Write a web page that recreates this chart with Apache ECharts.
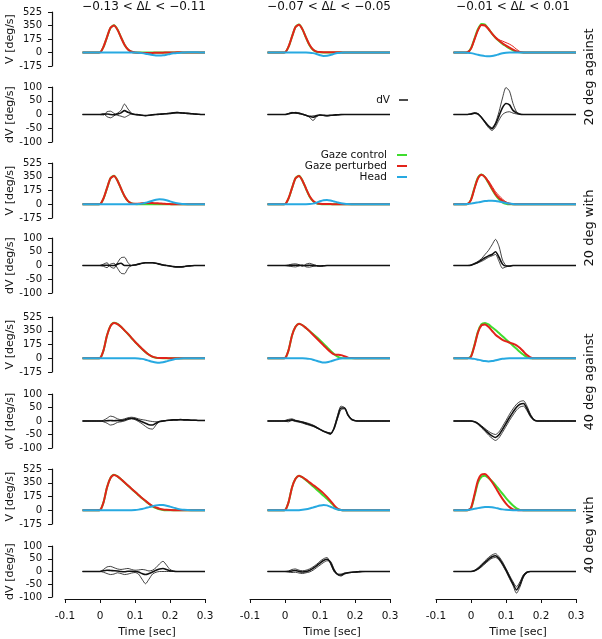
<!DOCTYPE html>
<html>
<head>
<meta charset="utf-8">
<script src="https://cdn.jsdelivr.net/npm/echarts@6/dist/echarts.min.js"></script>
<style>
html,body{margin:0;padding:0;background:#fff;}
#chart{width:602px;height:639px;}
</style>
</head>
<body>
<div id="chart"></div>
<script>
// time axis shared by every trace (sec)
const T = [-0.05,-0.04,-0.03,-0.02,-0.01, 0,0.01,0.02,0.03,0.04, 0.05,0.06,0.07,0.08,0.09,
	0.1,0.11,0.12,0.13,0.14, 0.15,0.16,0.17,0.18,0.19, 0.2,0.21,0.22,0.23,0.24, 0.25,0.26,0.27,0.28,0.29,0.3];

const colTitles = ['−0.13 < Δ{i|L} < −0.11', '−0.07 < Δ{i|L} < −0.05', '−0.01 < Δ{i|L} < 0.01'];
const rowLabels = ['20 deg against', '20 deg with', '40 deg against', '40 deg with'];
const vTicks = [-175, 525, 175];   // min, max, step
const dvTicks = [-100, 100, 50];
const xTicks = [-0.1, 0.3, 0.1];

// ---- 20 deg against ----
const ctlA1 = [0,0,0,0,0, 2,72,198,318,352, 298,198,102,40,10, 1,0,0,0,0, 0,0,0,0,0, 0,0,0,0,0, 0,0,0,0,0,0];
const perA1 = [0,0,0,0,0, 2,75,200,320,350, 295,195,100,38,10, 0,-3,-5,-6,-6, -5,-4,-3,-2,-1, 0,1,2,2,1, 0,0,0,0,0,0];
const hedA1 = [0,0,0,0,0, 0,0,0,0,0, 0,0,0,0,0, -1,-3,-8,-15,-24, -32,-38,-40,-37,-29, -19,-11,-5,-2,0, 2,3,3,2,1,0];
const dvA1a = [0,0,0,0,0, 0,3,-8,-12,-5, 5,15,38,20,5, 0,-2,-3,-4,-3, -2,0,1,2,3, 4,6,8,7,6, 5,4,2,1,0,0];
const dvA1b = [0,0,0,0,0, 0,-2,10,12,4, -3,-6,-10,-4,2, 0,-1,-3,-4,-3, -1,0,1,2,3, 4,5,6,5,4, 3,2,1,0,0,0];
const dvA1m = [0,0,0,0,0, 0,1,2,0,-1, 2,6,14,8,3, 0,-1,-3,-4,-3, -1,0,1,2,3, 4,6,7,6,5, 4,3,2,1,0,0];

const ctlA2 = [0,0,0,0,0, 2,72,205,332,362, 300,192,95,35,10, 2,0,0,0,0, 0,0,0,0,0, 0,0,0,0,0, 0,0,0,0,0,0];
const perA2 = [0,0,0,0,0, 2,75,205,330,360, 300,195,100,38,12, 5,4,4,3,3, 2,2,1,1,0, 0,0,0,0,0, 0,0,0,0,0,0];
const hedA2 = [0,0,0,0,0, 0,0,0,0,0, 0,0,-2,-8,-20, -35,-45,-43,-32,-18, -7,-2,0,0,0, 0,0,0,0,0, 0,0,0,0,0,0];
const dvA2a = [0,0,0,0,0, 0,2,5,8,6, 2,-2,-10,-22,-8, -2,-4,-5,-4,-3, -2,-1,0,0,0, 0,0,0,0,0, 0,0,0,0,0,0];
const dvA2b = [0,0,0,0,0, 0,4,8,5,3, 0,-4,-6,-5,-3, -2,-3,-4,-3,-2, -1,0,0,0,0, 0,0,0,0,0, 0,0,0,0,0,0];
const dvA2m = [0,0,0,0,0, 0,3,6,6,4, 1,-3,-7,-10,-5, -2,-3,-4,-3,-2, -1,0,0,0,0, 0,0,0,0,0, 0,0,0,0,0,0];

const ctlA3 = [0,0,0,0,3, 55,180,305,370,362, 305,245,192,150,112, 82,52,28,10,2, 0,0,0,0,0, 0,0,0,0,0, 0,0,0,0,0,0];
const perA3 = [0,0,0,0,3, 50,170,290,355,350, 305,245,195,155,120, 90,62,36,15,5, 0,0,0,0,0, 0,0,0,0,0, 0,0,0,0,0,0];
const perA3b = [0,0,0,0,3, 50,170,290,355,350, 305,245,195,165,148, 128,108,80,42,12, 2,0,0,0,0, 0,0,0,0,0, 0,0,0,0,0,0];
const hedA3 = [0,0,0,0,-2, -8,-18,-30,-40,-47, -50,-45,-35,-22,-10, -3,0,0,0,0, 0,0,0,0,0, 0,0,0,0,0, 0,0,0,0,0,0];
const dvA3a = [0,0,0,0,0, 2,6,3,-10,-25, -40,-48,-30,10,60, 98,85,40,10,2, 0,0,0,0,0, 0,0,0,0,0, 0,0,0,0,0,0];
const dvA3b = [0,0,0,0,0, 1,4,2,-12,-30, -48,-58,-45,-20,0, 8,10,5,2,0, 0,0,0,0,0, 0,0,0,0,0, 0,0,0,0,0,0];
const dvA3m = [0,0,0,0,0, 2,5,2,-11,-27, -42,-52,-35,-5,25, 40,35,15,6,1, 0,0,0,0,0, 0,0,0,0,0, 0,0,0,0,0,0];

// ---- 20 deg with ----
const ctlB1 = [0,0,0,0,0, 2,72,202,332,362, 302,198,102,40,12, 3,0,0,0,0, 0,0,0,0,0, 0,0,0,0,0, 0,0,0,0,0,0];
const perB1 = [0,0,0,0,0, 2,75,205,330,360, 300,200,105,40,12, 5,8,12,15,16, 15,13,10,7,4, 2,0,0,0,0, 0,0,0,0,0,0];
const hedB1 = [0,0,0,0,0, 0,0,0,0,0, 0,0,0,0,0, 0,2,8,18,32, 45,57,63,60,50, 37,24,13,6,2, 0,0,0,0,0,0];
const dvB1a = [0,0,0,0,0, 0,5,10,-5,-10, 10,28,30,10,0, 2,5,8,10,10, 10,8,5,2,0, -2,-4,-5,-5,-4, -2,-1,0,0,0,0];
const dvB1b = [0,0,0,0,0, 0,-3,-8,5,8, -10,-28,-30,-10,0, 2,5,8,10,10, 10,8,5,2,0, -2,-4,-5,-5,-4, -2,-1,0,0,0,0];
const dvB1m = [0,0,0,0,0, 0,1,1,0,0, 5,8,0,0,0, 2,5,8,10,10, 10,8,5,2,0, -2,-4,-5,-5,-4, -2,-1,0,0,0,0];

const ctlB2 = [0,0,0,0,0, 2,72,205,332,362, 300,195,100,40,12, 3,0,0,0,0, 0,0,0,0,0, 0,0,0,0,0, 0,0,0,0,0,0];
const perB2 = [0,0,0,0,0, 2,75,205,330,360, 300,200,105,45,15, 6,4,3,2,1, 0,0,0,0,0, 0,0,0,0,0, 0,0,0,0,0,0];
const hedB2 = [0,0,0,0,0, 0,0,0,0,0, 0,0,2,8,20, 38,52,55,48,36, 24,13,6,2,0, 0,0,0,0,0, 0,0,0,0,0,0];
const dvB2a = [0,0,0,0,0, 0,2,5,6,3, -3,5,8,4,0, -2,-1,0,0,0, 0,0,0,0,0, 0,0,0,0,0, 0,0,0,0,0,0];
const dvB2b = [0,0,0,0,0, 0,-2,-4,-5,-2, 2,-5,-6,-3,-1, -2,-1,0,0,0, 0,0,0,0,0, 0,0,0,0,0, 0,0,0,0,0,0];
const dvB2m = [0,0,0,0,0, 0,0,1,1,1, 0,0,1,0,-1, -2,-1,0,0,0, 0,0,0,0,0, 0,0,0,0,0, 0,0,0,0,0,0];

const ctlB3 = [0,0,0,0,3, 60,210,340,380,345, 270,190,118,62,25, 6,0,0,0,0, 0,0,0,0,0, 0,0,0,0,0, 0,0,0,0,0,0];
const perB3 = [0,0,0,0,3, 55,200,330,375,345, 280,200,130,80,45, 20,6,0,0,0, 0,0,0,0,0, 0,0,0,0,0, 0,0,0,0,0,0];
const perB3b = [0,0,0,0,3, 55,200,330,375,350, 300,230,160,110,65, 30,10,2,0,0, 0,0,0,0,0, 0,0,0,0,0, 0,0,0,0,0,0];
const hedB3 = [0,0,0,1,3, 8,15,24,33,40, 44,45,42,35,26, 17,9,4,1,0, 0,0,0,0,0, 0,0,0,0,0, 0,0,0,0,0,0];
const dvB3a = [0,0,0,0,0, 2,8,15,25,40, 55,75,95,70,20, 0,-3,0,0,0, 0,0,0,0,0, 0,0,0,0,0, 0,0,0,0,0,0];
const dvB3b = [0,0,0,0,0, 1,5,10,15,22, 30,35,40,15,-10, -5,-2,0,0,0, 0,0,0,0,0, 0,0,0,0,0, 0,0,0,0,0,0];
const dvB3m = [0,0,0,0,0, 1,6,12,20,28, 35,40,50,30,5, -2,-2,0,0,0, 0,0,0,0,0, 0,0,0,0,0, 0,0,0,0,0,0];

// ---- 40 deg against ----
const ctlC1 = [0,0,0,0,0, 3,100,290,412,452, 437,400,355,308,258, 208,162,118,78,44, 18,6,2,0,0, 0,0,0,0,0, 0,0,0,0,0,0];
const perC1 = [0,0,0,0,0, 3,100,290,410,450, 435,400,355,310,260, 210,165,120,80,45, 20,8,4,3,2, 1,0,0,0,0, 0,0,0,0,0,0];
const hedC1 = [0,0,0,0,0, 0,0,0,0,0, 0,0,0,0,0, 0,-2,-8,-18,-32, -45,-55,-58,-52,-40, -27,-15,-7,-2,0, 0,0,0,0,0,0];
const dvC1a = [0,0,0,0,0, 0,3,10,18,15, 8,5,8,12,14, 12,8,5,3,0, -2,-3,-2,0,2, 3,4,4,5,4, 4,3,3,2,2,2];
const dvC1b = [0,0,0,0,0, 0,-3,-8,-15,-12, -5,-3,0,5,8, 5,-2,-10,-20,-28, -30,-15,-3,0,2, 3,4,4,5,4, 4,3,3,2,2,2];
const dvC1m = [0,0,0,0,0, 0,0,1,2,1, 2,1,4,8,10, 8,3,-3,-8,-14, -15,-8,-2,0,2, 3,4,4,5,4, 4,3,3,2,2,2];

const ctlC2 = [0,0,0,0,0, 3,100,290,400,440, 420,385,348,310,270, 228,185,140,95,55, 22,5,0,0,0, 0,0,0,0,0, 0,0,0,0,0,0];
const perC2 = [0,0,0,0,0, 3,100,290,400,440, 420,385,345,300,255, 210,165,120,80,50, 45,40,25,8,2, 0,0,0,0,0, 0,0,0,0,0,0];
const hedC2 = [0,0,0,0,0, 0,0,0,0,0, 0,-2,-8,-18,-32, -45,-55,-52,-40,-25, -12,-4,0,0,0, 0,0,0,0,0, 0,0,0,0,0,0];
const dvC2a = [0,0,0,0,0, 2,6,8,3,0, -3,-6,-10,-15,-22, -30,-38,-45,-50,-25, 20,55,50,25,8, 2,0,0,0,0, 0,0,0,0,0,0];
const dvC2b = [0,0,0,0,0, -1,-3,2,-2,-4, -8,-12,-16,-20,-26, -32,-38,-42,-44,-30, 8,42,45,20,5, 1,0,0,0,0, 0,0,0,0,0,0];
const dvC2m = [0,0,0,0,0, 0,2,4,1,-2, -5,-9,-13,-18,-24, -31,-38,-43,-47,-28, 14,48,48,22,6, 1,0,0,0,0, 0,0,0,0,0,0];

const ctlC3 = [0,0,0,0,0, 25,170,340,435,450, 430,395,360,320,280, 240,200,160,120,80, 45,15,0,0,0, 0,0,0,0,0, 0,0,0,0,0,0];
const perC3 = [0,0,0,0,0, 20,160,330,420,430, 400,350,300,265,235, 215,200,185,165,130, 85,40,10,0,0, 0,0,0,0,0, 0,0,0,0,0,0];
const hedC3 = [0,0,0,0,0, -2,-8,-18,-28,-36, -40,-36,-26,-15,-6, -2,0,0,0,0, 0,0,0,0,0, 0,0,0,0,0, 0,0,0,0,0,0];
const dvC3a = [0,0,0,0,0, 0,-2,-8,-18,-28, -38,-46,-50,-40,-20, 2,25,45,62,72, 75,55,25,6,0, 0,0,0,0,0, 0,0,0,0,0,0];
const dvC3b = [0,0,0,0,0, 0,-4,-12,-25,-38, -52,-64,-72,-62,-42, -20,2,22,40,52, 55,38,15,3,0, 0,0,0,0,0, 0,0,0,0,0,0];
const dvC3m = [0,0,0,0,0, 0,-3,-10,-21,-33, -45,-55,-61,-51,-31, -9,13,33,51,62, 65,46,20,4,0, 0,0,0,0,0, 0,0,0,0,0,0];

// ---- 40 deg with ----
const ctlD1 = [0,0,0,0,0, 3,100,290,412,452, 432,395,353,312,272, 232,192,152,116,80, 50,28,12,4,1, 0,0,0,0,0, 0,0,0,0,0,0];
const perD1 = [0,0,0,0,0, 3,100,290,410,450, 430,395,355,315,275, 235,195,155,120,85, 55,35,20,10,5, 2,0,0,0,0, 0,0,0,0,0,0];
const hedD1 = [0,0,0,0,0, 0,0,0,0,0, 0,0,0,0,1, 3,8,16,27,40, 52,62,68,66,58, 46,33,21,11,5, 2,0,0,0,0,0];
const dvD1a = [0,0,0,0,0, 0,8,18,20,15, 10,8,10,12,8, 5,6,8,6,2, 5,15,30,40,25, 8,2,0,0,0, 0,0,0,0,0,0];
const dvD1b = [0,0,0,0,0, 0,-3,-8,-12,-10, -5,-8,-12,-10,-6, -4,-10,-30,-48,-30, -10,-3,0,0,0, 0,0,0,0,0, 0,0,0,0,0,0];
const dvD1m = [0,0,0,0,0, 0,3,5,4,3, 2,0,-1,1,1, 0,-2,-8,-12,-8, -2,5,10,12,8, 3,1,0,0,0, 0,0,0,0,0,0];

const ctlD2 = [0,0,0,0,0, 3,100,290,400,440, 418,382,345,305,265, 225,185,145,100,55, 15,2,0,0,0, 0,0,0,0,0, 0,0,0,0,0,0];
const perD2 = [0,0,0,0,0, 3,100,290,400,440, 420,390,355,322,290, 255,215,170,120,65, 20,3,0,0,0, 0,0,0,0,0, 0,0,0,0,0,0];
const hedD2 = [0,0,0,0,0, 0,0,0,0,1, 5,12,22,35,48, 60,68,62,45,25, 10,3,0,0,0, 0,0,0,0,0, 0,0,0,0,0,0];
const dvD2a = [0,0,0,0,0, 0,2,8,10,5, 3,5,10,18,28, 40,50,55,30,0, -10,-10,-6,-4,-3, -2,-1,0,0,0, 0,0,0,0,0,0];
const dvD2b = [0,0,0,0,0, 0,-2,-4,-3,-6, -8,-5,-2,5,15, 25,35,42,40,10, -12,-18,-10,-6,-4, -3,-2,-1,0,0, 0,0,0,0,0,0];
const dvD2m = [0,0,0,0,0, 0,0,2,4,0, -2,0,4,12,22, 33,43,48,35,5, -11,-14,-8,-5,-3, -2,-1,0,0,0, 0,0,0,0,0,0];

const ctlD3 = [0,0,0,0,0, 25,180,350,425,440, 410,370,320,265,210, 155,105,60,25,5, 0,0,0,0,0, 0,0,0,0,0, 0,0,0,0,0,0];
const perD3 = [0,0,0,0,0, 30,200,380,455,460, 420,360,290,215,145, 85,40,12,3,0, 0,0,0,0,0, 0,0,0,0,0, 0,0,0,0,0,0];
const hedD3 = [0,0,0,1,4, 10,18,27,35,40, 42,38,30,20,11, 5,2,0,0,0, 0,0,0,0,0, 0,0,0,0,0, 0,0,0,0,0,0];
const dvD3a = [0,0,0,0,0, 0,5,15,28,42, 55,65,70,58,38, 12,-15,-40,-60,-40, -12,-2,0,0,0, 0,0,0,0,0, 0,0,0,0,0,0];
const dvD3b = [0,0,0,0,0, 0,2,8,18,30, 42,52,55,45,25, 0,-28,-55,-85,-60, -22,-5,0,0,0, 0,0,0,0,0, 0,0,0,0,0,0];
const dvD3m = [0,0,0,0,0, 0,3,11,23,36, 48,58,62,51,31, 6,-21,-48,-72,-50, -17,-3,0,0,0, 0,0,0,0,0, 0,0,0,0,0,0];

// panels[row][col]
const panels = [
	[{ctl:ctlA1, per:[perA1], hed:hedA1, dv:[dvA1a,dvA1b], dvm:dvA1m},
	 {ctl:ctlA2, per:[perA2], hed:hedA2, dv:[dvA2a,dvA2b], dvm:dvA2m},
	 {ctl:ctlA3, per:[perA3b,perA3], hed:hedA3, dv:[dvA3a,dvA3b], dvm:dvA3m}],
	[{ctl:ctlB1, per:[perB1], hed:hedB1, dv:[dvB1a,dvB1b], dvm:dvB1m},
	 {ctl:ctlB2, per:[perB2], hed:hedB2, dv:[dvB2a,dvB2b], dvm:dvB2m},
	 {ctl:ctlB3, per:[perB3b,perB3], hed:hedB3, dv:[dvB3a,dvB3b], dvm:dvB3m}],
	[{ctl:ctlC1, per:[perC1], hed:hedC1, dv:[dvC1a,dvC1b], dvm:dvC1m},
	 {ctl:ctlC2, per:[perC2], hed:hedC2, dv:[dvC2a,dvC2b], dvm:dvC2m},
	 {ctl:ctlC3, per:[perC3], hed:hedC3, dv:[dvC3a,dvC3b], dvm:dvC3m}],
	[{ctl:ctlD1, per:[perD1], hed:hedD1, dv:[dvD1a,dvD1b], dvm:dvD1m},
	 {ctl:ctlD2, per:[perD2], hed:hedD2, dv:[dvD2a,dvD2b], dvm:dvD2m},
	 {ctl:ctlD3, per:[perD3], hed:hedD3, dv:[dvD3a,dvD3b], dvm:dvD3m}]
];

const FONT = 'DejaVu Sans';
const GREEN = '#3fdc2e', RED = '#e2231a', CYAN = '#27a9e1', INK = '#111';
const colLeft = [65, 250, 436];
const colW = 140;
const vTop = [12, 163, 317, 469], vH = [54, 55, 55, 55];
const dTop = [87, 238, 394, 546], dH = [55, 55, 54, 55];

function pairs(arr) { return T.map((t, i) => [t, arr[i]]); }
function line(g, arr, color, width) {
	return {type:'line', xAxisIndex:g, yAxisIndex:g, data:pairs(arr), showSymbol:false, symbol:'none',
		smooth:0.25, lineStyle:{color:color, width:width}, itemStyle:{color:color}, silent:true};
}

const grids = [], xAxes = [], yAxes = [], series = [];
function addAxes(g, r, c, kind) {
	const isV = kind === 'V';
	const bottom = !isV && r === 3;
	xAxes.push({
		gridIndex:g, type:'value', min:xTicks[0], max:xTicks[1], interval:xTicks[2], show:bottom, offset:2,
		axisLine:{show:true, onZero:false, lineStyle:{color:INK, width:1.2}},
		axisTick:{show:true, length:4, lineStyle:{color:INK}},
		axisLabel:{fontSize:10.5, color:INK, fontFamily:FONT, margin:12},
		splitLine:{show:false},
		name:'Time [sec]', nameLocation:'middle', nameGap:28,
		nameTextStyle:{fontSize:11, color:INK, fontFamily:FONT, padding:[0,0,0,24]}
	});
	const tk = isV ? vTicks : dvTicks;
	yAxes.push({
		gridIndex:g, type:'value', min:tk[0], max:tk[1], interval:tk[2], show:c === 0, offset:13,
		axisLine:{show:true, onZero:false, lineStyle:{color:INK, width:1.2}},
		axisTick:{show:true, length:4, lineStyle:{color:INK}},
		axisLabel:{fontSize:10, color:INK, fontFamily:FONT, margin:10},
		splitLine:{show:false},
		name:isV ? 'V [deg/s]' : 'dV [deg/s]', nameLocation:'middle', nameGap:36,
		nameTextStyle:{fontSize:11, color:INK, fontFamily:FONT}
	});
}

let g = 0;
for (let r = 0; r < 4; r++) {
	for (let c = 0; c < 3; c++) {
		const p = panels[r][c];
		// velocity panel
		grids.push({left:colLeft[c], top:vTop[r], width:colW, height:vH[r]});
		addAxes(g, r, c, 'V');
		series.push(line(g, p.ctl, GREEN, 2));
		p.per.forEach((arr, k) => series.push(line(g, arr, RED, k === p.per.length - 1 ? 2 : 1)));
		series.push(line(g, p.hed, CYAN, 2));
		g++;
		// difference panel
		grids.push({left:colLeft[c], top:dTop[r], width:colW, height:dH[r]});
		addAxes(g, r, c, 'dV');
		p.dv.forEach(arr => series.push(line(g, arr, INK, 0.8)));
		series.push(line(g, p.dvm, INK, 1.6));
		g++;
	}
}

const graphics = [];
const titleX = [144, 329, 513];
colTitles.forEach((t, i) => graphics.push({
	type:'text', x:titleX[i], y:7,
	style:{text:t, fill:INK, fontSize:12, fontFamily:FONT, align:'center', verticalAlign:'middle',
		rich:{i:{fontStyle:'italic', fontSize:12, fontFamily:FONT, fill:INK}}}
}));
const rowY = [77, 228, 382, 535];
rowLabels.forEach((t, i) => graphics.push({
	type:'text', x:590, y:rowY[i], rotation:Math.PI / 2,
	style:{text:t, fill:INK, fontSize:13, fontFamily:FONT, align:'center', verticalAlign:'middle'}
}));
// legends
const legendItems = [
	{name:'dV', color:INK, y:100, right:390, x1:399, x2:408, w:1.5},
	{name:'Gaze control', color:GREEN, y:155, right:387, x1:397, x2:407, w:2},
	{name:'Gaze perturbed', color:RED, y:166, right:387, x1:397, x2:407, w:2},
	{name:'Head', color:CYAN, y:177, right:387, x1:397, x2:407, w:2}
];
legendItems.forEach(it => {
	graphics.push({type:'text', x:it.right, y:it.y,
		style:{text:it.name, fill:INK, fontSize:10.5, fontFamily:FONT, align:'right', verticalAlign:'middle'}});
	graphics.push({type:'line', shape:{x1:it.x1, y1:it.y, x2:it.x2, y2:it.y},
		style:{stroke:it.color, lineWidth:it.w}});
});

const chart = echarts.init(document.getElementById('chart'), null, {renderer:'canvas'});
chart.setOption({
	animation:false,
	backgroundColor:'#fff',
	textStyle:{fontFamily:FONT},
	grid:grids,
	xAxis:xAxes,
	yAxis:yAxes,
	series:series,
	graphic:graphics
});
</script>
</body>
</html>
